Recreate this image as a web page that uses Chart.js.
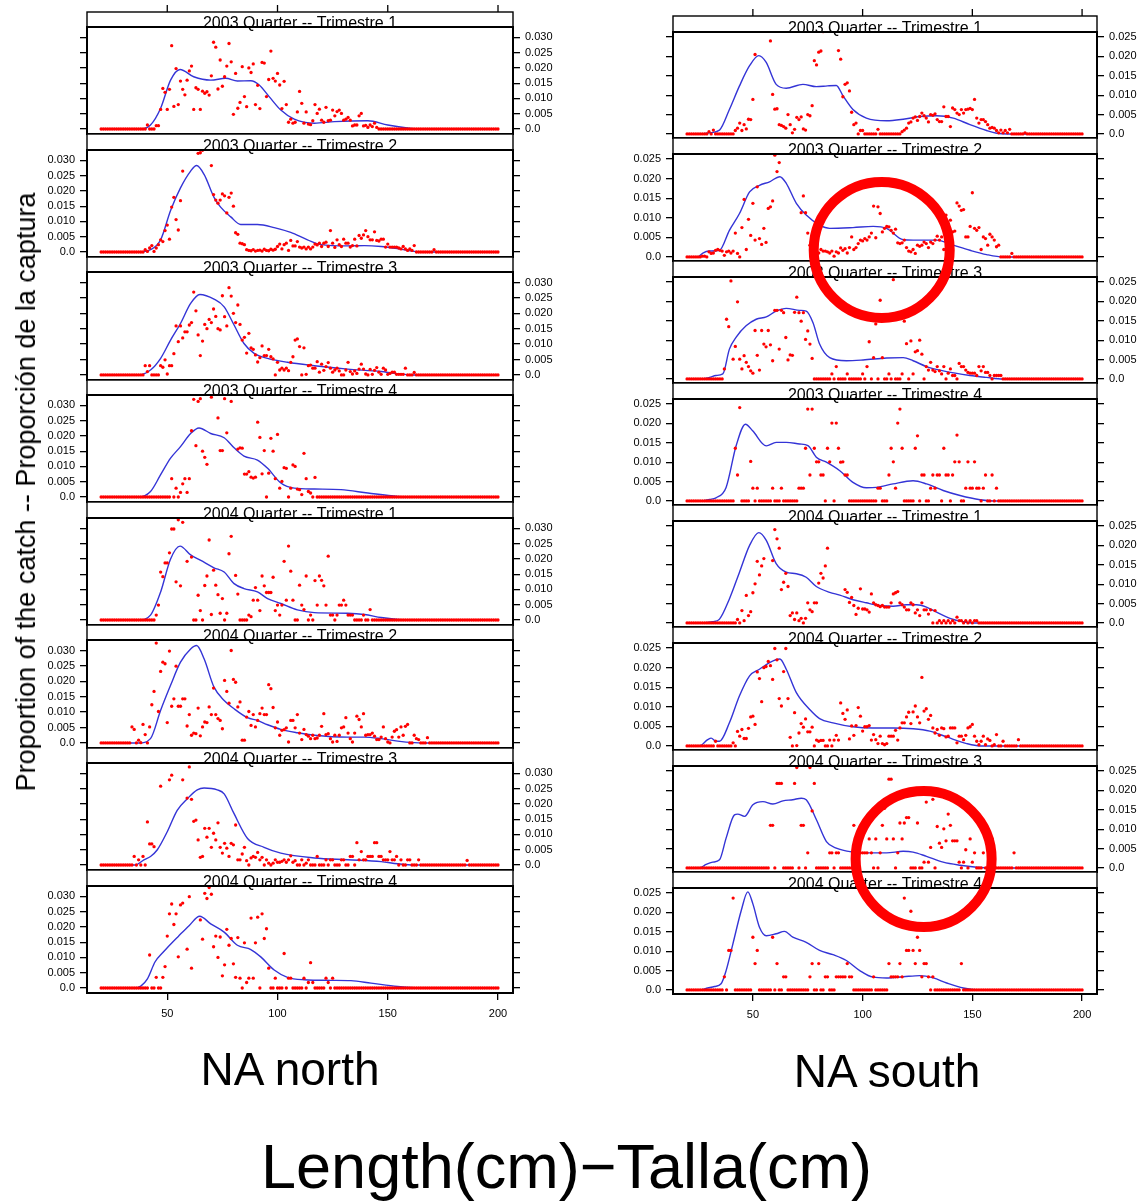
<!DOCTYPE html>
<html>
<head>
<meta charset="utf-8">
<title>Proportion of the catch by length</title>
<script src="https://cdn.jsdelivr.net/npm/chart.js@4.4.1/dist/chart.umd.min.js"></script>
<style>
  html, body { margin: 0; padding: 0; background: #fff; }
  #page { position: relative; width: 1143px; height: 1202px; overflow: hidden; font-family: "Liberation Sans", Arial, sans-serif; color: #000; }
  #page canvas { position: absolute; }
  .label { position: absolute; white-space: nowrap; line-height: 1; }
</style>
</head>
<body>
<div id="page"></div>
<script>
// length classes (cm) and axis ticks
const lengths = Array.from({ length: 181 }, (_, i) => 20 + i);
const lengthTicks = [50, 100, 150, 200];
const northTicks = [0, 0.005, 0.010, 0.015, 0.020, 0.025, 0.030];
const southTicks = [0, 0.005, 0.010, 0.015, 0.020, 0.025];

const quarterTitles = [
  '2003 Quarter -- Trimestre 1', '2003 Quarter -- Trimestre 2',
  '2003 Quarter -- Trimestre 3', '2003 Quarter -- Trimestre 4',
  '2004 Quarter -- Trimestre 1', '2004 Quarter -- Trimestre 2',
  '2004 Quarter -- Trimestre 3', '2004 Quarter -- Trimestre 4'
];
const regionNames = ['NA north', 'NA south'];

// observed proportions, in thousandths, one value per cm from 20 to 200
const north2003q1 = [
  0,0,0,0,0,0,0,0,0,0,
  0,0,0,0,0,0,0,0,0,0,
  0,1.3,0,0,0,1.1,1.1,6.4,13.3,12,
  6.4,13,27.3,7.4,19.8,8,15.7,13,11.2,16,
  19,20.6,6.4,13.5,13,6.4,12.4,11.7,12.2,11.1,
  17.4,28.4,26.8,13.1,22.6,14,17.1,20.6,28,22,
  4.8,18.2,6.8,8.7,20.4,10.6,7.3,20,18.5,21.3,
  8,14.3,6.7,21.8,21.6,10.6,16.2,25.5,16.6,15.7,
  18.2,14.4,6.7,15.6,8,2.2,3.2,1.9,2.2,5.6,
  12.3,8.4,1.9,5.6,1.6,1.4,2.7,8,5.1,6.5,
  2.9,2.2,7.1,2.7,2.9,6.2,4.3,5.7,6.2,5.1,
  2.9,3.2,3.8,2.9,1,1.3,1.3,4.3,5.1,1,
  1.2,0.5,1.3,0.8,1.9,0.5,0,0,0,0,
  0,0,0,0,0,0,0,0,0,0,
  0,0,0,0,0,0,0,0,0,0,
  0,0,0,0,0,0,0,0,0,0,
  0,0,0,0,0,0,0,0,0,0,
  0,0,0,0,0,0,0,0,0,0,
  0
];
const north2003q2 = [
  0,0,0,0,0,0,0,0,0,0,
  0,0,0,0,0,0,0,0,0,0,
  0.75,0.2,1.3,2.1,0.2,1.3,2.4,4,3.4,7,
  8.8,4.2,14.7,17.9,10.6,7.2,16.8,26.5,36,40,
  38,35,37,34.5,32.3,32.5,33.3,35,34.5,36,
  28.3,18.8,17,16,17,19,18.4,12.8,17.9,19.3,
  15,6.3,5.8,2.9,2.7,2.4,0.75,0.5,0.4,0.8,
  0.3,0.5,0.6,0.3,0.9,0.5,0.4,0.9,0.6,0.9,
  1.8,2.6,1,2.4,2.9,0.5,3.8,2,2,3.4,
  1.6,1.3,1.6,1,1.6,1,1.6,2.6,2.3,2.9,
  1.8,2.9,3.2,1.8,7,2.9,1.5,4,2.4,1.8,
  4.2,2.9,2.9,1.6,2.1,4.2,2,5.4,4.5,5.6,
  7,5,4,4,6.6,3.8,3.6,4.2,4.2,1.6,
  2.6,1.6,1.6,1.6,1.6,1.3,1,1.8,1,0.5,
  1,0.5,2.1,0,0,0,0,0,0,0,
  0,0.75,0,0,0,0,0,0,0,0,
  0,0,0,0,0,0,0,0,0,0,
  0,0,0,0,0,0,0,0,0,0,
  0
];
const north2003q3 = [
  0,0,0,0,0,0,0,0,0,0,
  0,0,0,0,0,0,0,0,0,0,
  3,1.1,3,0,0,0,0,3,2.5,4.9,
  0.3,3,3,6.9,15.9,10.8,15.9,12,14,14,
  16.2,17,26.9,20.8,13,6.3,11,16.4,15,18,
  17,21.4,19,15,14.6,25.7,18.9,15.9,28.3,25.6,
  20,17,22.7,16.4,11.3,12.2,7.1,13.5,8.8,8.3,
  6.5,4.2,5.6,9.4,6.3,6.3,8.3,5.9,5.2,0,
  4.1,1.6,2.2,1.6,2.2,1.4,4.1,5.9,11.3,11.7,
  9.2,0,8.8,0.2,3,3.2,2.2,2.2,4.3,0.9,
  3.5,1.5,2.7,4,2.2,0.9,1.6,2.2,1.3,0,
  0,1.6,4.1,1.1,0.3,1.3,0.5,1.9,3.5,1.9,
  0.3,0,1.8,0.2,1.5,2.4,0.9,0.2,2.2,1.6,
  0.2,0.5,0.9,0.9,0.2,0.2,0.2,0.2,2.2,0,
  0,0,0.8,0,0,0,0,0,0,0,
  0,0,0,0,0,0,0,0,0,0,
  0,0,0,0,0,0,0,0,0,0,
  0,0,0,0,0,0,0,0,0,0,
  0
];
const north2003q4 = [
  0,0,0,0,0,0,0,0,0,0,
  0,0,0,0,0,0,0,0,0,0,
  0,0,0,0,0,0,0,0,0,0,
  0,0,6,0,2.9,0,1.5,4.3,6,1.5,
  6,21.7,32,16.8,31.3,32.2,15,13,10.7,35,
  32.7,36,34.5,25.9,15.2,15.2,32.2,21,35,31.3,
  34,34,15.7,16.1,16,7.5,7.5,8.3,6.5,6.2,
  6.5,24.5,19.5,7.6,15.2,0,7.8,19.2,15,6,
  20.5,2.9,5.1,9.6,9.4,0,2.9,10.5,10,2.6,
  2.4,0.8,14.3,6,1.8,1.3,0,6.4,0,0,
  0,0,0,0,0,0,0,0,0,0,
  0,0,0,0,0,0,0,0,0,0,
  0,0,0,0,0,0,0,0,0,0,
  0,0,0,0,0,0,0,0,0,0,
  0,0,0,0,0,0,0,0,0,0,
  0,0,0,0,0,0,0,0,0,0,
  0,0,0,0,0,0,0,0,0,0,
  0,0,0,0,0,0,0,0,0,0,
  0
];
const north2004q1 = [
  0,0,0,0,0,0,0,0,0,0,
  0,0,0,0,0,0,0,0,0,0,
  0,0,0,0,0,1.6,4.9,15.7,14.2,18.7,
  18.7,22,29.8,29.8,12.5,32.8,11.2,32,35,19.2,
  33.6,20.6,0,0,8.1,3.1,0,11.3,14.4,26.2,
  1.8,16.3,11.4,8.3,2.2,7,0,2.2,21.7,27.4,
  35,14.6,8.5,0,0,0,0,1.6,1.1,6.5,
  10.6,6.5,3.1,14.4,11.2,9,9,9,14,3.1,
  4.9,1.6,4.9,19.2,6.5,24.2,16,6.5,0,0,
  11.4,4.9,3.4,14.4,0,1.6,0,12.9,4.9,14.4,
  13,11.2,4.9,20.9,1.6,1.6,0,1.6,4.9,4.9,
  6.5,4.9,1.6,1.6,1.6,0,0,0,0,1.6,
  0,0,3.4,0,0,0,0,0,0,0,
  0,0,0,0,0,0,0,0,0,0,
  0,0,0,0,0,0,0,0,0,0,
  0,0,0,0,0,0,0,0,0,0,
  0,0,0,0,0,0,0,0,0,0,
  0,0,0,0,0,0,0,0,0,0,
  0
];
const north2004q2 = [
  0,0,0,0,0,0,0,0,0,0,
  0,0,0,0,5.2,4.4,0,0.9,0.1,6,
  2.7,0,5.2,12.4,16.7,32.4,10.2,23.2,26.2,25.7,
  6.6,29.8,11.9,14.3,24.9,11.9,11.9,14.3,14.3,5.5,
  9.2,2.5,3.2,3,11.3,2.3,5.2,6.8,6.6,11.7,
  9.2,17.8,9.2,7.9,7.3,4.6,20.3,16.7,12.9,30,
  20.6,19.7,11.7,13.3,0.9,0.9,8.4,10.2,5.7,9.2,
  5.2,7.3,9.5,11.3,9.2,9.2,18.9,17.6,11.5,4.9,
  6.8,2.5,4.1,4.3,4.9,0.3,7.3,7.3,4.9,9.2,
  3.2,1.1,4.4,2.7,2.2,1.4,2.5,1.4,1.6,2.5,
  5.4,9.5,2.7,3,1.4,0.3,2.5,0.5,2.5,4.9,
  5.2,8.2,3.2,1.4,0.3,3.2,8.7,7.6,5.2,9.5,
  2.5,2.7,2.7,3.2,2.2,1.1,1.1,1.9,5.2,1.4,
  0.3,0,1.9,3.8,4.3,1.9,5.2,2.5,5.4,6,
  0,0,2.5,1.4,1.1,0,0,0,1.7,0,
  0,0,0,0,0,0,0,0,0,0,
  0,0,0,0,0,0,0,0,0,0,
  0,0,0,0,0,0,0,0,0,0,
  0
];
const north2004q3 = [
  0,0,0,0,0,0,0,0,0,0,
  0,0,0,0,0,2.8,0,1.7,0,2.8,
  0,14.1,6.9,6.9,6,36,35,25.8,37,36,
  35,27.9,29.4,38,36,37,35,27.9,36,21.9,
  32.1,21.5,14.3,14.7,8.2,2.5,2.8,12,9.1,12,
  5.8,10.4,8.2,13.8,5.8,3.9,7.1,5.5,2.8,7.1,
  6.6,13.1,1.7,1.7,3.6,5.8,1.4,0,2.3,2.8,
  2.5,4.1,1.7,2.5,0,1.7,0.6,0,0.6,1.7,
  0.9,0.9,1.2,1.7,0.9,1.7,3,0.9,1.4,0,
  0,1.7,0,0.6,1.7,0,0,0,2.8,0,
  0,0,1.7,0,1.7,1.7,0,0,0,1.7,
  1.7,0,0,2.8,2.8,0,7.3,1.7,4.4,1.7,
  1.7,2.8,2.8,2.8,7.3,7.3,2.8,2.8,1.7,1.7,
  1.7,4.4,1.7,1.7,2.8,0,1.7,0,0,1.7,
  1.7,0,0,0,1.7,0,0,0,0,0,
  0,0,0,0,0,0,0,0,0,0,
  0,0,0,0,0,0,1.5,0,0,0,
  0,0,0,0,0,0,0,0,0,0,
  0
];
const north2004q4 = [
  0,0,0,0,0,0,0,0,0,0,
  0,0,0,0,0,0,0,0,0,0,
  0,0,10.8,0,0,3.5,0,0,3.5,7,
  17,24.3,27.5,20.8,24.3,10.2,27.2,27.8,35,12.7,
  29.9,6.5,34,35,36,22.3,16,31,29.3,32.9,
  30.7,13.5,17,10,16.7,4,7.6,19.2,14,16.2,
  7.9,3.5,16.5,3.2,0,14.8,1.8,3.2,22.9,3.2,
  14.8,23.2,0,24.3,16.2,19.4,6.5,0,0,3.2,
  0,0,0,11.3,0,3.2,3.2,0,0,0,
  0,0,3.2,0,1.8,8.3,1.8,0,0,0,
  0,0,3.2,1.8,0,3.2,0,0,0,0,
  0,0,0,0,0,0,0,0,0,0,
  0,0,0,0,0,0,0,0,0,0,
  0,0,0,0,0,0,0,0,0,0,
  0,0,0,0,0,0,0,0,0,0,
  0,0,0,0,0,0,0,0,0,0,
  0,0,0,0,0,0,0,0,0,0,
  0,0,0,0,0,0,0,0,0,0,
  0
];

const south2003q1 = [
  0,0,0,0,0,0,0,0,0,0,
  0.6,0,1,0,0,0,0,0,0,0,
  0,0,0.9,1.5,2.8,0.9,2.4,1.3,3.8,3.7,
  8.9,20.5,28,30,29,31,28,27,24,10.2,
  6.4,6.5,2.4,2.2,1.9,1.5,5,2.4,0.3,1.2,
  4.3,3.7,4.4,1.3,1,5,4.7,7.3,18.9,17.8,
  21.1,21.4,26.4,29,28,30,27,28,28,21.5,
  19.3,9.6,12.8,13.2,11.1,5.6,2.4,2.8,0,0.9,
  0.9,0,0,0,0,0,0,1.2,0,0,
  0,0,0,0,0,0,0,0,0.6,1,
  1.5,2.8,3.1,4.1,4.4,3.5,4.5,5.4,4.7,4.1,
  3.1,5,4.8,5.2,3.7,3.2,3.2,7,4.5,4.5,
  1.9,6.7,6.3,5.4,5,6.3,5.4,6.3,6.4,6.6,
  6.3,8.9,4.1,2.8,3.7,3.7,3.2,2.4,1.5,1.7,
  1.5,0.9,0.3,1,0.3,0.9,0.3,1.2,0,0,
  0,0,0,0,0.3,0,0,0,0,0,
  0,0,0,0,0,0,0,0,0,0,
  0,0,0,0,0,0,0,0,0,0,
  0
];
const south2003q2 = [
  0,0,0,0,0,0,0,0.2,0.2,0,
  1.3,0.9,1,1.7,1.9,1.7,1.5,0.4,1.3,1.5,
  1,1.5,6.1,0.9,0,7.5,14.7,1.9,9.6,5.5,
  13.7,4.3,17.9,4.7,3.2,7.3,3.7,12.4,12.8,14.3,
  26,21.8,24.1,29,28,30,27,29,28,27,
  30,28,11.3,15.6,11.3,6.1,3,2.1,1.5,1.5,
  1,1.9,1.5,1.5,1.3,1,1.5,0.2,1.3,1,
  2.3,1.7,2.1,1,2.4,5.1,1.9,2.4,3.4,4.3,
  4.1,4.7,4.3,5.1,6.1,13,4.9,12.8,11.1,6.4,
  7.3,7.8,7.7,6.8,6.1,7.1,3.6,3.4,3.6,4.3,
  2.4,1.5,1.3,1.9,0.9,3,2.7,3,3.8,3.4,
  2.4,3.8,3.4,4.3,5.3,4.3,5.1,1.9,10.7,8.5,
  9.4,6.4,6.6,13.8,13,11.9,12.1,5.1,5.1,7.8,
  16.4,7.3,6.8,7.5,1.9,5.1,4.7,3,5.8,5.1,
  4.3,2.6,3,0,0,0,0,0,0.9,0,
  0,0,0,0,0,0,0,0,0,0,
  0,0,0,0,0,0,0,0,0,0,
  0,0,0,0,0,0,0,0,0,0,
  0
];
const south2003q3 = [
  0,0,0,0,0,0,0,0,0,0,
  0,0,0,0,0,0,0,2.6,15.4,13.5,
  25.3,5.1,8.4,19.9,5.1,2.6,6,4.3,3.2,2.1,
  1.5,12.5,6.1,2.3,12.5,9,8.3,12.5,8.8,4.7,
  17.7,17.7,7.7,17.7,17.1,10.7,4.9,6.2,6.1,17.2,
  21.1,17.1,14.9,17.1,10.2,12.4,9,5.3,0,0,
  0,0,0,0,0,0,1.3,0,3.2,0,
  0,0,0,1.3,0,0,0,0,0,0,
  1.3,0,3.2,9.6,0,5.5,14.2,0,20.3,5.5,
  0,0,1.3,0,25.6,0,0,0,1.3,14.9,
  9.1,0,9.8,1.3,7,7.3,10,6.4,0,3.2,
  2.3,4.3,2.3,1.9,3.2,2.1,1.3,3.2,0,1.5,
  2.6,0.9,0.9,0,4,3.2,3.2,2.3,1.7,1.5,
  1.5,1.5,0.9,3.2,2.1,3.2,1.7,1.7,0.9,0,
  0.9,0.9,0.9,0.9,0,0,0,0,0,0,
  0,0,0,0,0,0,0,0,0,0,
  0,0,0,0,0,0,0,0,0,0,
  0,0,0,0,0,0,0,0,0,0,
  0
];
const south2003q4 = [
  0,0,0,0,0,0,0,0,0,0,
  0,0,0,0,0,0,0,0,0,0,
  0,0,13.6,6.7,24.1,0,0,0,0,10.2,
  3.3,0,3.3,0,0,0,0,0,0,3.3,
  0,0,0,3.3,0,0,0,0,0,0,
  0,3.3,3.3,3.3,13.6,23.7,6.7,23.7,13.6,10.1,
  10.1,6.7,6.7,0,13.6,10.1,20.1,0,20.1,13.6,
  10,10.1,6.7,6.7,0,0,0,0,0,0,
  0,0,0,0,0,0,0,3.3,3.3,0,
  0,0,6.7,13.6,10.1,3.3,20.1,23.7,13.6,0,
  0,0,0,0,13.6,16.8,0,6.7,6.7,0,
  0,3.3,6.7,3.3,6.7,6.7,0,13.6,6.7,6.7,
  0,6.7,10.1,17,10.1,0,0,3.3,10.1,3.3,
  3.3,10.1,3.3,3.3,0,3.3,6.7,0,0,6.7,
  0,3.3,0,0,0,0,0,0,0,0,
  0,0,0,0,0,0,0,0,0,0,
  0,0,0,0,0,0,0,0,0,0,
  0,0,0,0,0,0,0,0,0,0,
  0
];
const south2004q1 = [
  0,0,0,0,0,0,0,0,0,0,
  0,0,0,0,0,0,0,0,0,0,
  0,0,0,0.9,0,3.2,0.6,7.1,1.9,2.9,
  7.8,10.1,15.9,12.4,14.7,16.6,28,29,27,16.1,
  24.1,21.7,19.3,8.6,10.5,12.8,9.4,1.9,2.6,0.9,
  2.6,0.6,1.2,0,1.2,5.2,3.4,2.9,5.2,5.2,
  10.3,12.8,11.6,14.7,19.3,28,27,29,28,30,
  27,28,8.6,7.9,5.3,6.6,4.5,2.2,3.8,8.8,
  3.6,3.6,3.4,2.8,7.5,5.2,4.7,4.5,4.2,4.5,
  4.1,4.1,4.1,5.2,7.5,7.8,8.1,5.2,4.7,4.1,
  3.4,3.4,5.2,4.7,2.6,3.4,1.9,5.2,3.4,3.4,
  2.3,3.4,0,3.2,0,0.6,0,0.6,0,0.6,
  0,0.6,0,1.5,0.6,0.6,0,0.6,0,0.6,
  0,0.6,0.6,0,0,0,0,0,0,0,
  0,0,0,0,0,0,0,0,0,0,
  0,0,0,0,0,0,0,0,0,0,
  0,0,0,0,0,0,0,0,0,0,
  0,0,0,0,0,0,0,0,0,0,
  0
];
const south2004q2 = [
  0,0,0,0,0,0,0,0,0,0,
  0,0,0,1.2,0,0,0,0,0,0,
  0,0.8,0,3.7,2.5,4.2,1.9,1.9,4.5,7.4,
  7.6,5.5,18.9,17.2,11.3,20,20.3,21.6,20.5,17,
  24.9,22,12.1,10.2,19,24.9,12.1,2.2,0,8.5,
  0.1,3.3,5.7,4.8,6.9,3.6,3.6,4.8,0,1.5,
  1.2,1.4,1.4,0,0,1.5,0,1.5,2.7,1.5,
  11,8.3,6.8,9.2,1.8,5.1,2.7,5.2,9.8,7.6,
  3.8,4.9,4.9,5.2,1.5,2.9,1.6,0.6,2.5,0.6,
  0.3,0.6,2.5,2.5,2.5,4,1.5,4.6,5.9,5.9,
  7.4,8.6,5.7,8.7,10.2,7.4,5.9,17.5,8.9,9.5,
  6.8,7.8,4.6,3.3,4.2,2.7,4.6,4.4,2.3,2.5,
  4.6,4.6,4.6,0.8,2.5,2.5,1.6,2.7,4.6,4.9,
  5.5,2.5,1.2,0.3,1.2,2.5,0.3,1.8,1.4,0,
  0.3,2.9,0,0,1.2,0,0,0,0,0,
  0,1.6,0,0,0,0,0,0,0,0,
  0,0,0,0,0,0,0,0,0,0,
  0,0,0,0,0,0,0,0,0,0,
  0
];
const south2004q3 = [
  0,0,0,0,0,0,0,0,0,0,
  0,0,0,0,0,0,0,0,0,0,
  0,0,0,0,0,0,0,0,0,0,
  0,0,0,0,0,0,0,0,11,11,
  0,21.8,21.8,21.8,0,0,0,0,0,21.8,
  25.9,0,11,11,0,3.9,25.9,14.7,21.8,0,
  0,0,0,0,0,3.9,3.9,0,3.9,3.9,
  0,0,0,0,0,0,11,0,3.9,3.9,
  3.9,3.9,3.9,7.5,3.9,0,7.5,0,3.9,11,
  15.4,7.5,22.9,22.9,7.5,0,3.9,11.6,7.5,11.6,
  13,13,0,0,0,11.6,0,0,1.5,17,
  1.5,5.3,17.7,0,10.7,6.4,5.3,10.1,7,13.9,
  11,7,7,7,1.5,0,1.5,4.7,0,7.5,
  1.5,3.9,0,0,0,3.9,0,0,0,7.5,
  0,0,0,0,0,0,0,0,0,3.9,
  0,0,0,0,0,0,0,0,0,0,
  0,0,0,0,0,0,0,0,0,0,
  0,0,0,0,0,0,0,0,0,0,
  0
];
const south2004q4 = [
  0,0,0,0,0,0,0,0,0,0,
  0,0,0,0,0,0,0,3.4,0,10.2,
  10.2,23.7,0,0,0,0,0,0,0,0,
  13.6,6.8,10.2,0,0,0,0,0,0,13.6,
  0,6.8,0,0,3.4,3.4,0,0,0,0,
  0,0,0,0,0,0,3.4,6.8,0,0,
  6.8,0,0,3.4,3.4,0,0,0,3.4,3.4,
  3.4,3.4,3.4,6.8,3.4,3.4,0,0,0,0,
  0,0,0,0,0,3.4,0,0,0,0,
  0,0,6.8,3.4,3.4,3.4,3.4,6.8,3.4,23.7,
  10.2,10.2,20.3,10.2,6.8,13.6,10.2,3.4,6.8,6.8,
  3.4,0,3.4,0,0,0,0,0,0,0,
  0,0,0,0,0,6.8,0,0,0,0,
  0,0,0,0,0,0,0,0,0,0,
  0,0,0,0,0,0,0,0,0,0,
  0,0,0,0,0,0,0,0,0,0,
  0,0,0,0,0,0,0,0,0,0,
  0,0,0,0,0,0,0,0,0,0,
  0
];

// smoothed curves, [length cm, proportion in thousandths]
const north2003q1Smooth = [[20,0],[38,0],[42.4,1.3],[47,6.8],[51.5,16],[55.8,19.5],[62,17.1],[69.7,16],[76.5,16.6],[81.8,15.7],[87.9,15.8],[91.7,14.4],[96.2,10.6],[101.5,6.2],[107.6,3.2],[116.7,1.9],[125.8,2.4],[141,2.7],[150,1.3],[160.6,0.2],[166,0],[200,0]];
const north2003q2Smooth = [[20,0],[37,0],[42.4,0.75],[47,4],[51.5,13.6],[56,21],[60.6,26.5],[63.3,28.3],[66.7,25.4],[71.2,17.9],[74.2,14.7],[78.8,11.5],[83.3,9],[90.9,9],[98.5,8],[106,6.4],[113.6,4],[119.7,2.4],[131.8,2],[139.4,2.1],[147,1.8],[154.5,1.1],[162,0.2],[167,0],[200,0]];
const north2003q3Smooth = [[20,0],[37,0],[42.4,1.6],[47,5.4],[51.5,11.3],[56,16.7],[60.6,23.2],[64.8,26.1],[71.2,24.6],[75.8,22.1],[80.3,16.2],[84.8,10.2],[89.4,7],[95.5,5.4],[104.5,4.1],[116.7,3],[131.8,1.9],[147,1.1],[153,0.5],[162,0],[200,0]];
const north2003q4Smooth = [[20,0],[37,0],[42.4,1.8],[47,7.3],[51.5,12.7],[56,16.5],[60.6,20.8],[64.4,22.6],[69.7,20.8],[75.8,19.4],[80.3,16.1],[84.8,13.4],[90.9,12.1],[95.5,9.4],[101.5,4.6],[107.6,2.9],[116.7,2.6],[128.8,2.4],[141,1.3],[154.5,0.2],[162,0],[200,0]];
const north2004q1Smooth = [[20,0],[37,0],[42.4,1.6],[47,9.2],[51.5,20],[55.8,24.2],[60.6,21.3],[65.2,19.5],[71.2,17.1],[75.8,15.7],[80.3,11.9],[84.8,10.3],[90.9,9.2],[95.5,7],[101.5,5.4],[109,3.3],[116.7,2.4],[131.8,2.2],[139.4,1.8],[147,0.8],[154.5,0.2],[162,0],[200,0]];
const north2004q2Smooth = [[20,0],[37.1,0],[42.4,1.4],[47,10.6],[51.5,18.7],[56,26.2],[60.6,30.5],[63.3,31.6],[66.7,27.3],[71.2,18.1],[75.8,13.8],[80.3,11.1],[86.4,8.2],[90.9,7.3],[95.5,5.9],[101.5,4.4],[109,3.3],[116.7,2.5],[131.8,1.9],[139.4,1.9],[147,1.4],[154.5,0.6],[162,0.1],[166,0],[200,0]];
const north2004q3Smooth = [[20,0],[35.6,0],[39.4,1.7],[42.4,2.8],[45.5,5],[50,10.9],[54.5,17.9],[59.1,21.7],[63.6,24.6],[66.7,25.2],[72.7,24.6],[75.8,23.3],[80.3,16.8],[86.4,8.7],[93.9,5.8],[101.5,3.9],[116.7,2.3],[131.8,1.7],[147,1.1],[154.5,0.4],[162,0],[200,0]];
const north2004q4Smooth = [[20,0],[35.6,0],[38,0.6],[41,3],[44.5,8.6],[48,11.6],[50,13.2],[55,16.9],[60,20.5],[64.7,23.5],[69.7,21],[75.8,18.3],[81.8,14],[87.9,12.6],[92.4,10.2],[98.5,5.9],[104.5,3.5],[112.1,2.7],[124.2,2.5],[133.3,2.4],[142.4,1.6],[154.5,0.5],[162,0.1],[166,0],[200,0]];

const south2003q1Smooth = [[20,0],[26.4,0],[30.2,0.3],[34.8,1],[39.3,6.3],[43.9,12.4],[48.5,17.6],[52.7,20.2],[56,18.5],[60.6,12.8],[65.2,11.8],[72.8,12.8],[78.9,12.2],[84,12.4],[88,12.5],[91.1,9.8],[95.6,6.3],[101.7,4.1],[110.9,3.4],[118.5,3.8],[126.1,4.5],[133.7,4.7],[141.3,4.1],[148.9,2.4],[156.5,0.9],[161.1,0.2],[166,0],[200,0]];
const south2003q2Smooth = [[20,0],[24.9,0],[27.2,1],[30.2,1.5],[34.8,1.7],[39.3,6.8],[43.9,11.1],[48.5,16.6],[53,18.3],[57.6,19.2],[62.3,20.5],[65.2,18.8],[69.8,13.7],[74.3,10.7],[80.4,8.1],[85,7.3],[95.6,7.5],[104.8,7.8],[110.9,7.3],[118.5,4.4],[123,4.3],[133.7,4.3],[141.3,3],[148.9,1.7],[156.5,0.6],[164.1,0],[200,0]];
const south2003q3Smooth = [[20,0],[26.4,0],[30.2,0.4],[33.2,0.9],[36.3,1.3],[39.3,7.7],[42.4,10.8],[46.9,13.7],[51.5,15.4],[56.1,16],[60.6,17.5],[65.2,18.2],[71.3,17.7],[74.3,17.5],[77.4,14.5],[80.4,9],[85,5.5],[92.6,4.7],[100.2,4.9],[110.9,5.4],[118.5,5.5],[123,4.7],[129.1,3.2],[136.7,2.1],[148.9,0.9],[156.5,0.4],[164,0],[200,0]];
const south2003q4Smooth = [[20,0],[26.4,0],[30.2,0.4],[33.2,0.8],[37.8,3.5],[42.4,14.3],[46.6,19.8],[49.9,18.1],[56.1,14.2],[60.6,15.1],[65.2,15.1],[71.3,14.7],[75.1,14.3],[78.9,11.3],[83.5,10],[89.6,7.8],[95.6,4.8],[101.7,3.4],[106.3,3.5],[113.9,4.4],[123,5.2],[129.1,4.4],[136.7,2.7],[144.4,1.4],[153.5,0.3],[159.6,0],[200,0]];
const south2004q1Smooth = [[20,0],[26.4,0],[31.7,0.3],[34.8,1],[39.3,6.2],[43.9,13.1],[48.5,20],[52.7,23.3],[56.1,21.3],[60.6,15.3],[65.2,13.1],[69.8,12.7],[74.3,11.8],[78.9,9.4],[85,7.9],[89.6,7.2],[95.6,6],[101.7,5.2],[107.8,4.5],[113.9,4.3],[120,4.7],[124.6,4.7],[129.1,4.1],[133.7,2.8],[139.8,1.2],[145.9,0.3],[150.4,0],[200,0]];
const south2004q2Smooth = [[20,0],[25.6,0],[29.4,1.6],[31,2],[33.2,1.2],[34.8,1.2],[39.3,5.9],[43.9,12.8],[48.5,17.9],[53,19.6],[57.6,21.3],[62.3,22.2],[65.2,19.6],[69.8,13.6],[75.9,9.3],[80.4,7],[86.5,5.9],[95.6,4.9],[104.7,4.6],[113.9,4.6],[123,4.4],[130.6,3.8],[138.3,2.3],[147.4,0.6],[153.5,0],[200,0]];
const south2004q3Smooth = [[20,0],[25.6,0],[28.7,0.9],[31.7,1.5],[34.8,2.1],[37.8,7.7],[41.6,13.7],[43.1,13.9],[46.2,13.3],[50,16.3],[54.6,17.1],[59.1,16.5],[63.7,17.3],[68.2,17.6],[72.1,18],[74.3,17.6],[78.9,12.5],[83.5,6.8],[88,5.1],[95.6,4.1],[103.3,3.9],[110.9,3.9],[118.5,4.3],[123,4.1],[129.1,3],[136.7,1.5],[144.4,0.7],[152,0.2],[158,0],[200,0]];
const south2004q4Smooth = [[20,0],[25.6,0],[29.4,0.5],[32.5,0.9],[35.5,1.6],[37.8,5],[40.9,11.9],[44.7,20.5],[47.7,25.3],[50,22.2],[53,16.2],[56.1,14],[60.6,14.5],[64.4,15.1],[68.2,13.6],[74.3,12.3],[80.4,10.2],[86.5,9.1],[92.6,7.6],[98.7,5],[104.7,3.3],[110.9,3.1],[118.5,3.4],[126.1,3.7],[132.2,3.1],[138.3,1.8],[145.9,0.5],[153.5,0],[200,0]];

const northPoints = [north2003q1, north2003q2, north2003q3, north2003q4, north2004q1, north2004q2, north2004q3, north2004q4];
const southPoints = [south2003q1, south2003q2, south2003q3, south2003q4, south2004q1, south2004q2, south2004q3, south2004q4];
const northSmooth = [north2003q1Smooth, north2003q2Smooth, north2003q3Smooth, north2003q4Smooth, north2004q1Smooth, north2004q2Smooth, north2004q3Smooth, north2004q4Smooth];
const southSmooth = [south2003q1Smooth, south2003q2Smooth, south2003q3Smooth, south2003q4Smooth, south2004q1Smooth, south2004q2Smooth, south2004q3Smooth, south2004q4Smooth];

// the two highlighted spots (column, panel row, length, proportion)
const highlights = [
  { col: 1, row: 1, x: 108.7, y: 0.0018 },
  { col: 1, row: 6, x: 127.8, y: 0.0023 }
];

const columns = [
  { left: 87, width: 426, top: 11.5, step: 122.7, strip: 15.3, yMin: -0.00164, yMax: 0.0334, ticks: northTicks, points: northPoints, smooth: northSmooth },
  { left: 673, width: 424, top: 16, step: 122.25, strip: 16, yMin: -0.00104, yMax: 0.0263, ticks: southTicks, points: southPoints, smooth: southSmooth }
];

const SIDE = 62, TOP = 26, BOTTOM = 32;
const FONT = '"Liberation Sans", Arial, sans-serif';
const page = document.getElementById('page');
const tickFont = { family: FONT, size: 11 };

// strip, frame and top ticks of one lattice panel
const panelFrame = {
  id: 'panelFrame',
  afterDraw(chart, args, opts) {
    const { ctx, chartArea: a } = chart;
    const w = a.right - a.left;
    const stripTop = a.top - opts.stripH;
    ctx.save();
    ctx.fillStyle = '#fff';
    ctx.fillRect(a.left, stripTop, w, opts.stripH);
    ctx.strokeStyle = '#000';
    ctx.lineWidth = 1.4;
    ctx.strokeRect(a.left, stripTop, w, opts.stripH);
    ctx.fillStyle = '#000';
    ctx.font = '16px ' + FONT;
    ctx.textAlign = 'center';
    ctx.textBaseline = 'alphabetic';
    ctx.fillText(opts.title, a.left + w / 2, a.top + 1);
    ctx.lineWidth = 2;
    ctx.strokeRect(a.left, a.top, w, a.bottom - a.top);
    if (opts.topTicks) {
      ctx.lineWidth = 1.3;
      ctx.beginPath();
      lengthTicks.forEach(v => {
        const x = chart.scales.x.getPixelForValue(v);
        ctx.moveTo(x, stripTop);
        ctx.lineTo(x, stripTop - 7);
      });
      ctx.stroke();
    }
    ctx.restore();
  }
};

function yAxis(col, position, showLabels) {
  return {
    type: 'linear',
    position: position,
    min: col.yMin,
    max: col.yMax,
    bounds: 'data',
    afterBuildTicks: s => { s.ticks = col.ticks.map(v => ({ value: v })); },
    afterFit: s => { s.width = SIDE; },
    ticks: {
      display: showLabels, color: '#000', font: tickFont, padding: 5,
      callback: v => v === 0 ? '0.0' : v.toFixed(3)
    },
    grid: { drawOnChartArea: false, drawTicks: true, tickLength: 7, color: '#000', lineWidth: 1.3 },
    border: { display: false }
  };
}

const charts = [[], []];
const frames = [[], []];

columns.forEach((col, c) => {
  for (let r = 0; r < 8; r++) {
    const stripTop = Math.round(col.top + col.step * r);
    const plotTop = Math.round(col.top + col.step * r + col.strip);
    const plotBottom = Math.round(col.top + col.step * (r + 1));
    const plotH = plotBottom - plotTop;

    const canvas = document.createElement('canvas');
    canvas.width = col.width + 2 * SIDE;
    canvas.height = plotH + TOP + BOTTOM;
    canvas.style.left = (col.left - SIDE) + 'px';
    canvas.style.top = (plotTop - TOP) + 'px';
    page.appendChild(canvas);
    frames[c][r] = { left: col.left - SIDE, top: plotTop - TOP };

    const labelsRight = r % 2 === 0;
    const isBottom = r === 7;
    const pts = col.points[r].map((v, i) => ({ x: lengths[i], y: v / 1000 }));
    const curve = col.smooth[r].map(p => ({ x: p[0], y: p[1] / 1000 }));

    charts[c][r] = new Chart(canvas, {
      type: 'scatter',
      data: {
        datasets: [
          { data: pts, showLine: false, pointRadius: 1.65, pointHoverRadius: 0, backgroundColor: '#ff0000', borderWidth: 0, order: 0 },
          { data: curve, showLine: true, pointRadius: 0, borderColor: '#3434d6', borderWidth: 1.4, cubicInterpolationMode: 'monotone', fill: false, order: 1 }
        ]
      },
      options: {
        responsive: false,
        animation: false,
        devicePixelRatio: 1,
        events: [],
        layout: { padding: { top: TOP, left: 0, right: 0, bottom: 0 } },
        plugins: {
          legend: { display: false },
          tooltip: { enabled: false },
          panelFrame: { title: quarterTitles[r], stripH: plotTop - stripTop, topTicks: r === 0 }
        },
        scales: {
          x: {
            type: 'linear', min: 13.6, max: 206.8, bounds: 'data',
            afterBuildTicks: s => { s.ticks = lengthTicks.map(v => ({ value: v })); },
            afterFit: s => { s.height = BOTTOM; },
            ticks: { display: isBottom, color: '#000', font: tickFont, padding: 7, maxRotation: 0, autoSkip: false },
            grid: { display: isBottom, drawOnChartArea: false, tickLength: 7, color: '#000', lineWidth: 1.3 },
            border: { display: false }
          },
          y: yAxis(col, 'left', !labelsRight),
          y2: yAxis(col, 'right', labelsRight)
        }
      },
      plugins: [panelFrame]
    });
  }
});

// red rings, placed through the panel scales
const overlay = document.createElement('canvas');
overlay.width = 1143;
overlay.height = 1202;
overlay.style.left = '0px';
overlay.style.top = '0px';
page.appendChild(overlay);
const octx = overlay.getContext('2d');
octx.strokeStyle = '#ff0000';
octx.lineWidth = 10;
highlights.forEach(h => {
  const ch = charts[h.col][h.row];
  const f = frames[h.col][h.row];
  const cx = f.left + ch.scales.x.getPixelForValue(h.x);
  const cy = f.top + ch.scales.y.getPixelForValue(h.y);
  octx.beginPath();
  octx.arc(cx, cy, 68, 0, Math.PI * 2);
  octx.stroke();
});

function addLabel(text, css) {
  const d = document.createElement('div');
  d.className = 'label';
  d.textContent = text;
  Object.assign(d.style, css);
  page.appendChild(d);
  return d;
}

addLabel('Proportion of the catch -- Proporción de la captura', {
  left: '25.6px', top: '491.5px', fontSize: '27px', lineHeight: '30px',
  transform: 'translate(-50%, -50%) rotate(-90deg)'
});
addLabel(regionNames[0], { left: '290px', top: '1046px', fontSize: '46px', transform: 'translateX(-50%)' });
addLabel(regionNames[1], { left: '887px', top: '1048px', fontSize: '46px', transform: 'translateX(-50%)' });
addLabel('Length(cm)\u2212Talla(cm)', { left: '566.5px', top: '1135px', fontSize: '63px', transform: 'translateX(-50%)' });
</script>
</body>
</html>
